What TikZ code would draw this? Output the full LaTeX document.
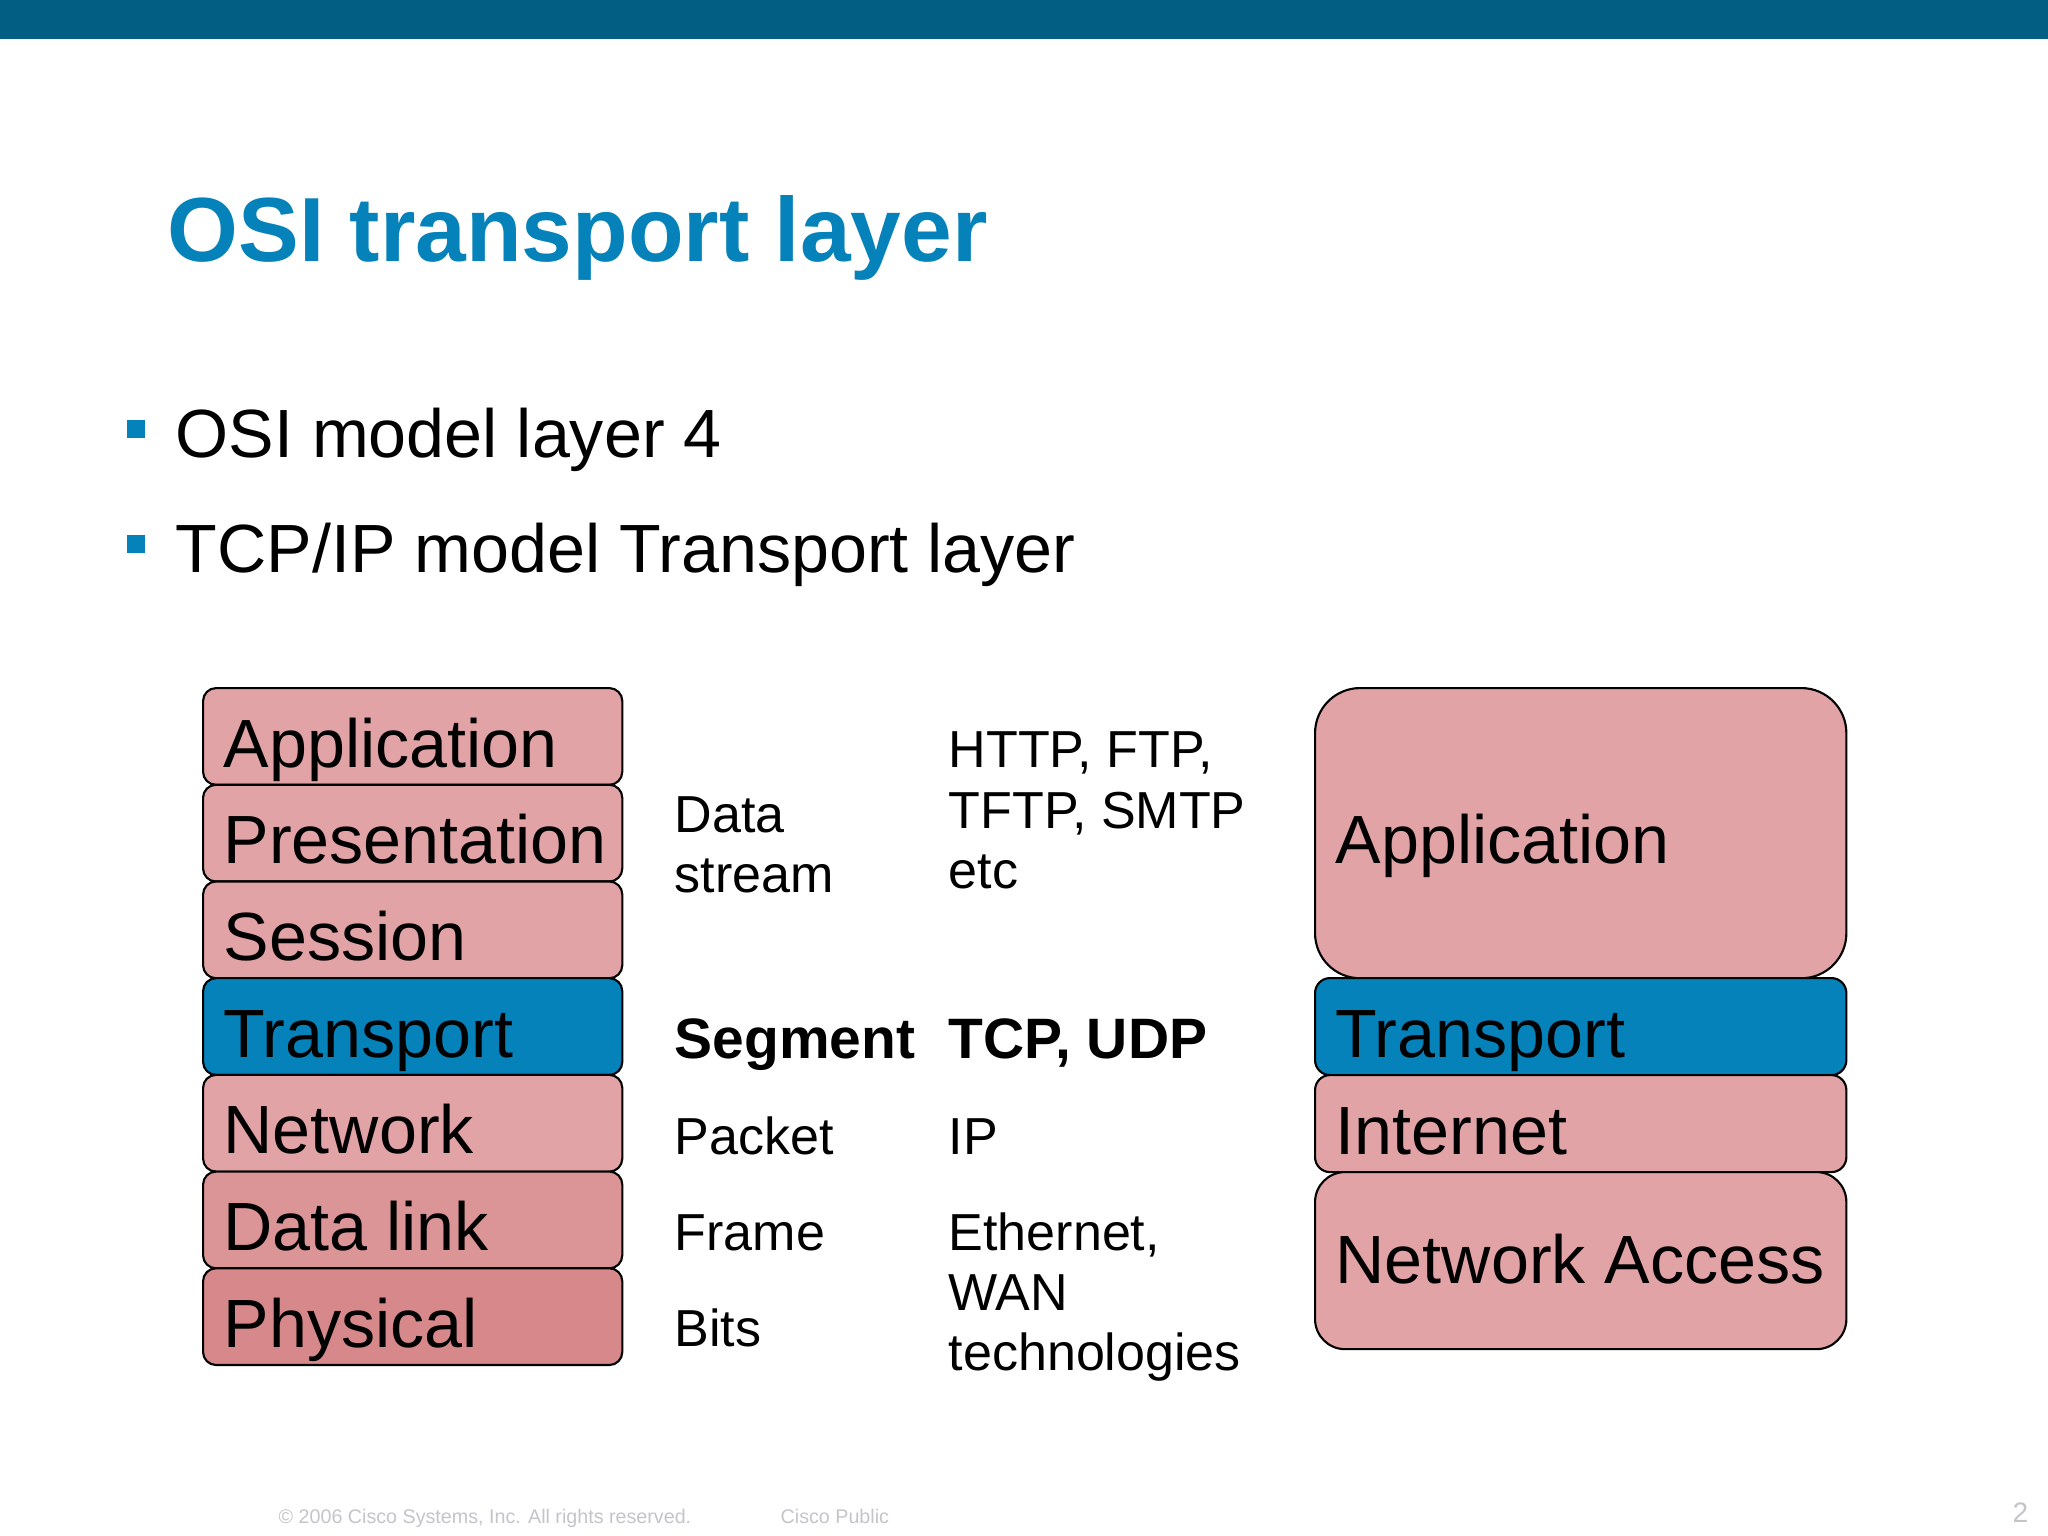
\documentclass[tikz,border=0pt]{standalone}
\usepackage{fontspec}
\setmainfont{Liberation Sans}
\usetikzlibrary{positioning,calc}
\definecolor{ciscobar}{HTML}{035E84}
\definecolor{ciscoblue}{HTML}{0582BA}
\definecolor{layerpink}{HTML}{E2A3A6}
\definecolor{linkpink}{HTML}{DC9597}
\definecolor{physpink}{HTML}{D7888A}
\definecolor{footgrey}{HTML}{C4C4CA}

\begin{document}
\begin{tikzpicture}[x=0.01cm, y=-0.01cm,
    osibox/.style={draw=black, line width=0.6pt, rounded corners=0.13cm, fill=layerpink,
        anchor=north west, minimum width=4.19cm, minimum height=0.967cm, inner sep=0pt},
    tcpbox/.style={draw=black, line width=0.6pt, fill=layerpink,
        anchor=north west, minimum width=5.31cm, inner sep=0pt},
    boxtext/.style={anchor=base west, inner sep=0pt, font=\fontsize{19.4}{23}\selectfont},
    midtext/.style={anchor=base west, inner sep=0pt, font=\fontsize{14.8}{17}\selectfont},
    midbold/.style={anchor=base west, inner sep=0pt, font=\fontsize{16.2}{19}\selectfont\bfseries},
    bullet/.style={fill=ciscoblue, minimum size=0.18cm, inner sep=0pt},
    foot/.style={anchor=base west, inner sep=0pt, text=footgrey, font=\fontsize{5.6}{7}\selectfont}]

    % Page and top bar
    \fill[white] (0,0) rectangle (2048,1536);
    \useasboundingbox (0,0) rectangle (2048,1536);
    \fill[ciscobar] (0,0) rectangle (2048,39);

    % Title and bullets
    \node[anchor=base west, inner sep=0pt, text=ciscoblue, font=\fontsize{25.9}{31}\selectfont\bfseries] (title) at (167,261) {OSI transport layer};
    \node[bullet] (b1) at (136,429) {};
    \node[boxtext] (b1t) at (175,457) {OSI model layer 4};
    \node[bullet] (b2) at (136,544) {};
    \node[boxtext] (b2t) at (175,572) {TCP/IP model Transport layer};

    % OSI stack
    \foreach \nm/\txt/\col [count=\i from 0] in {app/Application/layerpink, pres/Presentation/layerpink,
        sess/Session/layerpink, trans/Transport/ciscoblue, net/Network/layerpink,
        link/Data link/linkpink, phys/Physical/physpink} {
        \node[osibox, fill=\col] (\nm) at (202, 687+96.7*\i) {};
        \node[boxtext] (\nm-t) at ($(\nm.north west)+(21,80)$) {\txt};
    }

    % Data units
    \node[midtext] (data1) at (674,832) {Data};
    \node[midtext] (data2) at (674,892) {stream};
    \node[midbold] (seg) at (674,1058) {Segment};
    \node[midtext] (pkt) at (674,1154) {Packet};
    \node[midtext] (frame) at (674,1250) {Frame};
    \node[midtext] (bits) at (674,1346) {Bits};

    % Protocols
    \node[midtext] (proto1) at (948,767) {HTTP, FTP,};
    \node[midtext] (proto2) at (948,828) {TFTP, SMTP};
    \node[midtext] (proto3) at (948,888) {etc};
    \node[midbold] (tcpudp) at (948,1058) {TCP, UDP};
    \node[midtext] (ip) at (948,1154) {IP};
    \node[midtext] (eth1) at (948,1250) {Ethernet,};
    \node[midtext] (eth2) at (948,1310) {WAN};
    \node[midtext] (eth3) at (948,1370) {technologies};

    % TCP/IP stack
    \node[tcpbox, rounded corners=0.45cm, minimum height=2.90cm] (tapp) at (1314,687) {};
    \node[boxtext] (tapp-t) at ($(tapp.north west)+(21,176)$) {Application};
    \node[tcpbox, rounded corners=0.15cm, fill=ciscoblue, minimum height=0.97cm] (ttrans) at (1314,977) {};
    \node[boxtext] (ttrans-t) at ($(ttrans.north west)+(21,80)$) {Transport};
    \node[tcpbox, rounded corners=0.15cm, minimum height=0.97cm] (tnet) at (1314,1074) {};
    \node[boxtext] (tnet-t) at ($(tnet.north west)+(21,80)$) {Internet};
    \node[tcpbox, rounded corners=0.30cm, minimum height=1.77cm] (tacc) at (1314,1171) {};
    \node[boxtext] (tacc-t) at ($(tacc.north west)+(21,112)$) {Network Access};

    % Footer
    \node[foot] (copy) at (278,1523) {© 2006 Cisco Systems, Inc. All rights reserved.};
    \node[foot] (public) at (780,1523) {Cisco Public};
    \node[foot, font=\fontsize{8}{9}\selectfont] (page) at (2012,1522) {2};
\end{tikzpicture}
\end{document}
